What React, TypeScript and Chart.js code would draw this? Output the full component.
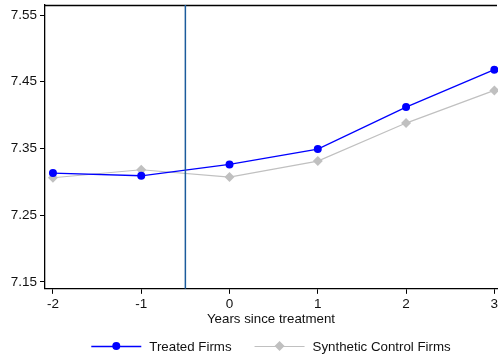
import React, { useEffect, useRef } from "react";
import { Chart, registerables } from "chart.js";

Chart.register(...registerables);

const years = [-2, -1, 0, 1, 2, 3];
const treated = [7.313, 7.309, 7.326, 7.349, 7.412, 7.468];
const synthetic = [7.306, 7.318, 7.307, 7.331, 7.388, 7.437];
const yTicks = [7.15, 7.25, 7.35, 7.45, 7.55];
const xTicks = [-2, -1, 0, 1, 2, 3];
const treatmentLine = -0.5;
const seriesLabels = ["Treated Firms", "Synthetic Control Firms"];
const xTitle = "Years since treatment";

const FONT = "'Liberation Sans', Arial, Helvetica, sans-serif";

const extrasPlugin = {
  id: "extras",
  afterDatasetsDraw(chart: any) {
    const { ctx, chartArea, scales } = chart;
    ctx.save();
    ctx.strokeStyle = "#000";
    ctx.lineWidth = 1.3;
    ctx.beginPath();
    ctx.moveTo(chartArea.left, chartArea.top + 0.5);
    ctx.lineTo(chartArea.right, chartArea.top + 0.5);
    ctx.stroke();
    const x = scales.x.getPixelForValue(treatmentLine);
    ctx.strokeStyle = "#1c5c9c";
    ctx.lineWidth = 1.5;
    ctx.beginPath();
    ctx.moveTo(x, chartArea.top);
    ctx.lineTo(x, chartArea.bottom);
    ctx.stroke();
    ctx.restore();
  },
  afterDraw(chart: any) {
    const { ctx, chartArea } = chart;
    ctx.save();
    ctx.font = "13.3px " + FONT;
    const lineLen = 50;
    const gapText = 8;
    const gapItem = 23;
    const ds = chart.data.datasets;
    const widths = ds.map((d: any) => ctx.measureText(d.label).width);
    let total = 0;
    widths.forEach((w: number, i: number) => {
      total += lineLen + gapText + w + (i < widths.length - 1 ? gapItem : 0);
    });
    let cx = (chartArea.left + chartArea.right) / 2 - total / 2;
    const cy = 346;
    ds.forEach((d: any, i: number) => {
      ctx.strokeStyle = d.borderColor;
      ctx.lineWidth = d.borderWidth;
      ctx.beginPath();
      ctx.moveTo(cx, cy + 0.5);
      ctx.lineTo(cx + lineLen, cy + 0.5);
      ctx.stroke();
      const mx = cx + lineLen / 2;
      ctx.fillStyle = d.pointBackgroundColor;
      ctx.beginPath();
      if (d.pointStyle === "rectRot") {
        const r = 5;
        ctx.moveTo(mx, cy - r);
        ctx.lineTo(mx + r, cy);
        ctx.lineTo(mx, cy + r);
        ctx.lineTo(mx - r, cy);
        ctx.closePath();
      } else {
        ctx.arc(mx, cy, 4, 0, Math.PI * 2);
      }
      ctx.fill();
      ctx.fillStyle = "#111";
      ctx.textBaseline = "middle";
      ctx.textAlign = "left";
      ctx.fillText(d.label, cx + lineLen + gapText, cy + 1);
      cx += lineLen + gapText + widths[i] + gapItem;
    });
    ctx.restore();
  },
};

export default function App() {
  const ref = useRef<HTMLCanvasElement>(null);
  useEffect(() => {
    if (!ref.current) return;
    const chart = new Chart(ref.current, {
      type: "line",
      data: {
        datasets: [
          {
            label: seriesLabels[0],
            data: years.map((x, i) => ({ x, y: treated[i] })),
            borderColor: "#0000ff",
            backgroundColor: "#0000ff",
            pointBackgroundColor: "#0000ff",
            pointBorderWidth: 0,
            pointRadius: 4,
            pointStyle: "circle",
            borderWidth: 1.3,
            tension: 0,
            clip: false,
          },
          {
            label: seriesLabels[1],
            data: years.map((x, i) => ({ x, y: synthetic[i] })),
            borderColor: "#c0c0c0",
            backgroundColor: "#c0c0c0",
            pointBackgroundColor: "#c0c0c0",
            pointBorderWidth: 0,
            pointRadius: 5,
            pointStyle: "rectRot",
            borderWidth: 1.2,
            tension: 0,
            clip: false,
          },
        ] as any,
      },
      options: {
        animation: false,
        responsive: false,
        maintainAspectRatio: false,
        layout: { autoPadding: false, padding: { left: 0, right: 1, top: 5, bottom: 33 } },
        plugins: { legend: { display: false }, tooltip: { enabled: false } },
        scales: {
          x: {
            type: "linear",
            min: -2.09,
            max: 3.03,
            afterBuildTicks: (s: any) => {
              s.ticks = xTicks.map((v) => ({ value: v }));
            },
            afterFit: (s: any) => {
              s.paddingLeft = 0;
              s.paddingRight = 0;
            },
            ticks: {
              color: "#111",
              font: { family: FONT, size: 13.5 },
              padding: 2,
              maxRotation: 0,
              autoSkip: false,
              callback: (v: any) => String(v),
            },
            grid: {
              display: true,
              drawOnChartArea: false,
              drawTicks: true,
              tickLength: 5,
              color: "#000",
            },
            border: { display: true, color: "#000", width: 1.3 },
            title: {
              display: true,
              text: xTitle,
              color: "#111",
              font: { family: FONT, size: 13.3 },
              padding: { top: -3, bottom: 0 },
            },
          },
          y: {
            type: "linear",
            min: 7.1395,
            max: 7.565,
            afterBuildTicks: (s: any) => {
              s.ticks = yTicks.map((v) => ({ value: v }));
            },
            afterFit: (s: any) => {
              s.width = 45;
              s.paddingTop = 0;
              s.paddingBottom = 0;
            },
            ticks: {
              color: "#111",
              font: { family: FONT, size: 13.5 },
              padding: 3,
              autoSkip: false,
              callback: (v: any) => Number(v).toFixed(2),
            },
            grid: {
              display: true,
              drawOnChartArea: false,
              drawTicks: true,
              tickLength: 5,
              color: "#000",
            },
            border: { display: true, color: "#000", width: 1.3 },
          },
        },
      },
      plugins: [extrasPlugin],
    });
    return () => chart.destroy();
  }, []);
  return (
    <div style={{ position: "fixed", left: 0, top: 0, width: 498, height: 360, background: "#fff" }}>
      <canvas ref={ref} width={498} height={360} style={{ width: 498, height: 360, display: "block" }} />
    </div>
  );
}
